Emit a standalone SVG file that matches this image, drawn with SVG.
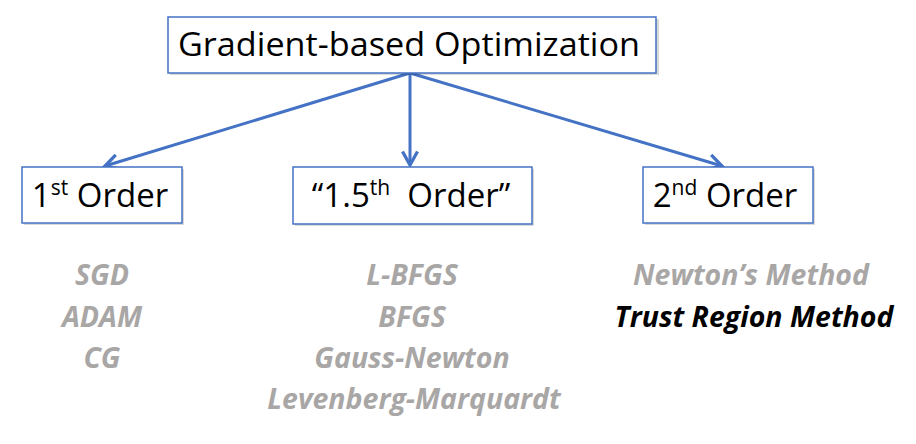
<svg xmlns="http://www.w3.org/2000/svg" width="916" height="444" viewBox="0 0 916 444">
<style>
.box{fill:#fff;stroke:#4472C4;stroke-width:1.5}
.sh{fill:#000;opacity:0.15}
.lbl{font-family:"Open Sans","Liberation Sans",sans-serif;fill:#000;text-anchor:middle}
.it{font-family:"Open Sans","Liberation Sans",sans-serif;font-style:italic;font-weight:bold;font-size:28.5px;fill:#A9A6A6;text-anchor:middle}
.conn{stroke:#4472C4;stroke-width:3;fill:none;marker-end:url(#ah)}
</style>
<defs>
<marker id="ah" viewBox="0 0 12 12" refX="10" refY="6" markerWidth="6" markerHeight="6" orient="auto" markerUnits="strokeWidth">
<path d="M1,1 L10,6 L1,11" fill="none" stroke="#4472C4" stroke-width="2.2"/>
</marker>
</defs>
<g id="connectors">
<path class="conn" d="M410,73 L105,166"/>
<path class="conn" d="M410,73 L410,165"/>
<path class="conn" d="M410,73 L722,166"/>
</g>
<g id="root">
<rect class="sh" x="170" y="19" width="489" height="56"/>
<rect class="box" x="168" y="17" width="488" height="56"/>
<text class="lbl" x="409" y="56" font-size="32" textLength="462" lengthAdjust="spacingAndGlyphs">Gradient-based Optimization</text>
</g>
<g id="first">
<rect class="sh" x="24" y="169" width="160" height="56"/>
<rect class="box" x="22" y="167" width="160" height="56"/>
<text class="lbl" x="100" y="207" font-size="33">1<tspan font-size="21" dy="-12">st</tspan><tspan dy="12"> Order</tspan></text>
</g>
<g id="onefive">
<rect class="sh" x="295" y="169" width="239" height="57"/>
<rect class="box" x="293" y="167" width="239" height="57"/>
<text class="lbl" x="411" y="207" font-size="33">“1.5<tspan font-size="21" dy="-12">th</tspan><tspan dy="12">&#160; Order”</tspan></text>
</g>
<g id="second">
<rect class="sh" x="645" y="169" width="170" height="56"/>
<rect class="box" x="643" y="167" width="170" height="56"/>
<text class="lbl" x="725" y="207" font-size="33">2<tspan font-size="21" dy="-12">nd</tspan><tspan dy="12"> Order</tspan></text>
</g>
<g id="first-list">
<text class="it" x="102" y="285">SGD</text>
<text class="it" x="102" y="327">ADAM</text>
<text class="it" x="102" y="368">CG</text>
</g>
<g id="onefive-list">
<text class="it" x="412" y="285">L-BFGS</text>
<text class="it" x="412" y="327">BFGS</text>
<text class="it" x="412" y="368">Gauss-Newton</text>
<text class="it" x="414" y="409">Levenberg-Marquardt</text>
</g>
<g id="second-list">
<text class="it" x="751" y="285">Newton’s Method</text>
<text class="it" x="754" y="327" style="fill:#000">Trust Region Method</text>
</g>
</svg>
